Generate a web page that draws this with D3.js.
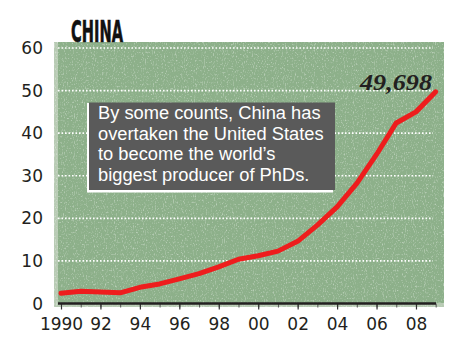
<!DOCTYPE html>
<html>
<head>
<meta charset="utf-8">
<script src="https://cdn.jsdelivr.net/npm/d3@7"></script>
<style>
    body { margin: 0; background: #fff; }
    #chart { width: 472px; height: 354px; }
    .tick-label { font-family: "DejaVu Sans", sans-serif; font-size: 17px; fill: #231f20; }
    .note { font-family: "Liberation Sans", Arial, sans-serif; font-size: 18.3px; fill: #fff; }
</style>
</head>
<body>
<div id="chart"></div>
<script>
// PhDs awarded in China, thousands
var years = [1990, 1991, 1992, 1993, 1994, 1995, 1996, 1997, 1998, 1999,
             2000, 2001, 2002, 2003, 2004, 2005, 2006, 2007, 2008, 2009]
var phds = [2.4, 2.9, 2.7, 2.5, 3.8, 4.6, 5.8, 7.0, 8.6, 10.4,
            11.2, 12.3, 14.6, 18.4, 22.7, 28.2, 35.0, 42.4, 45.0, 49.698]
var yTicks = [0, 10, 20, 30, 40, 50, 60]
var xTicks = [1990, 1992, 1994, 1996, 1998, 2000, 2002, 2004, 2006, 2008]
var xTickLabels = ["1990", "92", "94", "96", "98", "00", "02", "04", "06", "08"]
var noteLines = ["By some counts, China has", "overtaken the United States",
                 "to become the world\u2019s", "biggest producer of PhDs."]
var endLabel = "49,698"
var title = "CHINA"

var width = 472
var height = 354
var panel = {left: 54, top: 42, right: 444, bottom: 307}

var svg, xScale, yScale

createChart()

function createChart()
{
    xScale = d3.scaleLinear()
        .domain([1990, 2009])
        .range([61, 435.7])

    yScale = d3.scaleLinear()
        .domain([0, 60])
        .range([303.5, 48])

    svg = d3.select("#chart")
        .append("svg")
        .attr("width", width)
        .attr("height", height)
        .attr("display", "block")

    var defs = svg.append("defs")
    var grain = defs.append("filter")
        .attr("id", "grain")
        .attr("x", 0).attr("y", 0).attr("width", "100%").attr("height", "100%")
    grain.append("feTurbulence")
        .attr("type", "fractalNoise")
        .attr("baseFrequency", "0.9 0.5")
        .attr("numOctaves", 2)
        .attr("seed", 4)
    grain.append("feColorMatrix")
        .attr("type", "matrix")
        .attr("values", "0 0 0 0 1  0 0 0 0 1  0 0 0 0 1  3.2 0 0 0 -1.7")
    grain.append("feComposite")
        .attr("in2", "SourceGraphic")
        .attr("operator", "in")

    // panel background: light edge, green field, speckle
    svg.append("rect")
        .attr("x", panel.left)
        .attr("y", panel.top)
        .attr("width", panel.right - panel.left)
        .attr("height", panel.bottom - panel.top)
        .attr("fill", "#b8cbb4")
    svg.append("rect")
        .attr("x", panel.left + 4)
        .attr("y", panel.top)
        .attr("width", panel.right - panel.left - 4)
        .attr("height", panel.bottom - panel.top - 4)
        .attr("fill", "#8db08a")
    svg.append("rect")
        .attr("x", panel.left)
        .attr("y", panel.top)
        .attr("width", panel.right - panel.left)
        .attr("height", panel.bottom - panel.top)
        .attr("fill", "#ffffff")
        .attr("opacity", 0.4)
        .attr("filter", "url(#grain)")

    // dotted gridlines
    svg.append("g")
        .selectAll("line")
        .data(yTicks.filter(function(d) { return d > 0 }))
        .join("line")
        .attr("x1", 58)
        .attr("x2", 433)
        .attr("y1", function(d) { return yScale(d) })
        .attr("y2", function(d) { return yScale(d) })
        .attr("stroke", "#ffffff")
        .attr("stroke-width", 1.6)
        .attr("stroke-dasharray", "1.6,1.9")

    // y labels, no axis line
    svg.append("g")
        .selectAll("text")
        .data(yTicks)
        .join("text")
        .attr("class", "tick-label")
        .attr("x", 43)
        .attr("y", function(d) { return yScale(d) + 6 })
        .attr("text-anchor", "end")
        .text(function(d) { return d })

    // x axis: minor ticks every year, major every two
    var xAxisMinor = d3.axisBottom(xScale)
        .tickValues(d3.range(1990, 2010))
        .tickSize(4)
        .tickFormat("")
    var xAxis = d3.axisBottom(xScale)
        .tickValues(xTicks)
        .tickSize(6)
        .tickPadding(8)
        .tickFormat(function(d, i) { return xTickLabels[i] })

    var gMinor = svg.append("g")
        .attr("transform", "translate(0," + yScale(0) + ")")
        .call(xAxisMinor)
    gMinor.select(".domain").remove()
    gMinor.selectAll("line").attr("stroke", "#555").attr("stroke-width", 1)

    var gx = svg.append("g")
        .attr("transform", "translate(0," + yScale(0) + ")")
        .call(xAxis)
    gx.select(".domain").remove()
    gx.selectAll("line").attr("stroke", "#333").attr("stroke-width", 1.2)
    gx.selectAll("text")
        .attr("class", "tick-label")
        .attr("fill", null)
    gx.attr("font-size", null).attr("font-family", null)

    svg.append("line")
        .attr("x1", 58)
        .attr("x2", 436)
        .attr("y1", yScale(0))
        .attr("y2", yScale(0))
        .attr("stroke", "#231f20")
        .attr("stroke-width", 2.5)

    // annotation box
    svg.append("rect")
        .attr("x", 87)
        .attr("y", 103)
        .attr("width", 246)
        .attr("height", 89.5)
        .attr("fill", "#ffffff")
    svg.append("rect")
        .attr("x", 89)
        .attr("y", 102.5)
        .attr("width", 246)
        .attr("height", 87.5)
        .attr("fill", "#5a5a5a")
    svg.append("g")
        .selectAll("text")
        .data(noteLines)
        .join("text")
        .attr("class", "note")
        .attr("x", 98)
        .attr("y", function(d, i) { return 119 + i * 20.5 })
        .text(function(d) { return d })

    // data line
    var line = d3.line()
        .x(function(d, i) { return xScale(years[i]) })
        .y(function(d) { return yScale(d) })
    svg.append("path")
        .datum(phds)
        .attr("d", line)
        .attr("fill", "none")
        .attr("stroke", "#ee1d1d")
        .attr("stroke-width", 5)
        .attr("stroke-linecap", "round")
        .attr("stroke-linejoin", "round")

    // end value label
    svg.append("text")
        .attr("x", 432)
        .attr("y", 90)
        .attr("text-anchor", "end")
        .attr("font-family", "Liberation Serif, serif")
        .attr("font-weight", "bold")
        .attr("font-style", "italic")
        .attr("font-size", 23)
        .attr("fill", "#231f20")
        .attr("textLength", 72)
        .attr("lengthAdjust", "spacingAndGlyphs")
        .text(endLabel)

    // title
    svg.append("text")
        .attr("x", 71)
        .attr("y", 42)
        .attr("font-family", "Liberation Sans Narrow, DejaVu Sans Condensed, sans-serif")
        .attr("font-weight", "bold")
        .attr("font-size", 31)
        .attr("fill", "#111")
        .attr("stroke", "#111")
        .attr("stroke-width", 0.6)
        .attr("textLength", 52)
        .attr("lengthAdjust", "spacingAndGlyphs")
        .text(title)
}
</script>
</body>
</html>
